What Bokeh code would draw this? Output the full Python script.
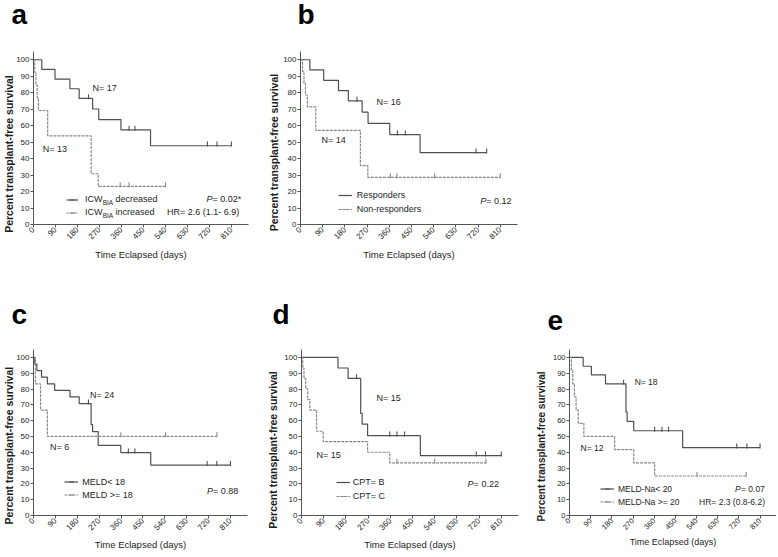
from math import pi
from bokeh.plotting import figure
from bokeh.models import Range1d, FixedTicker, Label, Legend, LegendItem, Title
from bokeh.layouts import column, row
from bokeh.embed import file_html
from bokeh.resources import INLINE

FONT = "Liberation Sans"
TXT = "#1e1e1e"
SOLID = "#505050"
DASHED = "#8a8a8a"
NBSP = "\u00a0"

X_TICKS = [0, 90, 180, 270, 360, 450, 540, 630, 720, 810]
Y_TICKS = [0, 10, 20, 30, 40, 50, 60, 70, 80, 90, 100]
X_LABEL = "Time Eclapsed (days)"
Y_LABEL = "Percent transplant-free survival"

# ---- panel a : ICW_BIA
a_dec_time = [0, 34, 88, 149, 187, 242, 267, 358, 479, 810]
a_dec_surv = [100, 94.1, 88.2, 82.4, 76.5, 70.1, 63.7, 57.4, 47.8, 47.8]
a_dec_cens = [225, 391, 415, 712, 751, 810]
a_inc_time = [0, 5, 10, 15, 20, 58, 236, 265, 540]
a_inc_surv = [100, 92.3, 84.6, 76.9, 69.2, 53.8, 30.8, 23.1, 23.1]
a_inc_cens = [355, 391, 540]

# ---- panel b : responders
b_res_time = [0, 38, 94, 154, 194, 250, 274, 362, 485, 755]
b_res_surv = [100, 93.8, 87.5, 81.3, 75.0, 68.2, 61.4, 54.5, 43.6, 43.6]
b_res_cens = [229, 393, 425, 712, 755]
b_non_time = [0, 8, 14, 20, 28, 62, 243, 273, 810]
b_non_surv = [100, 92.9, 85.7, 78.6, 71.4, 57.1, 35.7, 28.6, 28.6]
b_non_cens = [364, 391, 544, 810]

# ---- panel c : MELD
c_lo_time = [0, 5, 14, 33, 57, 87, 150, 188, 237, 243, 266, 359, 482, 810]
c_lo_surv = [100, 95.8, 91.7, 87.5, 83.3, 79.2, 75.0, 70.8, 57.5, 53.1, 44.3, 39.8, 31.9, 31.9]
c_lo_cens = [226, 390, 417, 714, 754, 810]
c_hi_time = [0, 8, 29, 57, 754]
c_hi_surv = [100, 83.3, 66.7, 50.0, 50.0]
c_hi_cens = [359, 543, 754]

# ---- panel d : CPT
d_b_time = [0, 148, 189, 240, 246, 268, 482, 810]
d_b_surv = [100, 93.3, 86.7, 64.6, 57.8, 50.5, 37.9, 37.9]
d_b_cens = [223, 358, 387, 418, 709, 746, 810]
d_c_time = [0, 5, 10, 17, 25, 34, 61, 88, 268, 358, 748]
d_c_surv = [100, 93.3, 86.7, 80.0, 73.3, 66.7, 53.3, 46.7, 40.0, 33.3, 33.3]
d_c_cens = [387, 540, 748]

# ---- panel e : MELD-Na
e_lo_time = [0, 58, 93, 153, 240, 245, 273, 481, 810]
e_lo_surv = [100, 94.4, 88.9, 83.3, 65.5, 59.5, 53.6, 42.9, 42.9]
e_lo_cens = [230, 362, 393, 421, 711, 754, 810]
e_hi_time = [0, 8, 14, 21, 28, 37, 61, 192, 273, 362, 751]
e_hi_surv = [100, 91.7, 83.3, 75.0, 66.7, 58.3, 50.0, 41.7, 33.3, 25.0, 25.0]
e_hi_cens = [542, 751]


def surv_at(times, surv, t):
    level = surv[0]
    for ti, si in zip(times, surv):
        if ti <= t:
            level = si
    return level


def add_text(p, x, y, s, size, style="normal", align="left", baseline="middle"):
    p.add_layout(Label(x=x, y=y, text=s, text_font=FONT, text_font_size=f"{size}px",
                       text_font_style=style, text_align=align, text_baseline=baseline,
                       text_color=TXT))


def make_panel(g):
    p = figure(width=g["w"], height=g["h"],
               min_border_left=g["mbl"], min_border_right=g["mbr"],
               min_border_top=0, min_border_bottom=g["mbb"],
               x_range=Range1d(0, 880), y_range=Range1d(0, 105),
               output_backend="svg", toolbar_location=None)
    p.outline_line_color = None
    p.grid.visible = False
    p.background_fill_color = "white"
    p.border_fill_color = "white"

    # gap between the panel letter and the plot frame
    p.add_layout(Title(text=" ", text_font_size="1px", standoff=g["gap"]), "above")
    # panel letter as the figure title
    p.title.text = g["name"]
    p.title.text_font = FONT
    p.title.text_font_size = "28px"
    p.title.text_font_style = "bold"
    p.title.text_color = "#000000"
    p.title.align = "left"
    p.title.vertical_align = "top"
    p.title.offset = g["toff"]
    p.title.standoff = -4

    p.xaxis.ticker = FixedTicker(ticks=X_TICKS)
    p.yaxis.ticker = FixedTicker(ticks=Y_TICKS)
    p.xaxis.major_label_orientation = pi / 4
    p.xaxis.axis_label = X_LABEL
    p.xaxis.axis_label_text_font_style = "normal"
    p.xaxis.axis_label_text_font_size = f"{g['xfs']}px"
    p.xaxis.axis_label_standoff = g["xls"]
    # trailing no-break spaces push the rotated label towards the axis origin, as in the original
    p.yaxis.axis_label = Y_LABEL + NBSP * g["ypad"]
    p.yaxis.axis_label_text_font_style = "bold"
    p.yaxis.axis_label_text_font_size = f"{g['yfs']}px"
    p.yaxis.axis_label_standoff = g["yls"]
    for ax in (p.xaxis[0], p.yaxis[0]):
        ax.axis_label_text_font = FONT
        ax.axis_label_text_color = TXT
        ax.axis_line_color = "#555555"
        ax.major_tick_line_color = "#555555"
        ax.minor_tick_line_color = None
        ax.major_tick_out = 3
        ax.major_tick_in = 0
        ax.major_label_standoff = 1
        ax.major_label_text_font = FONT
        ax.major_label_text_font_size = f"{g['tfs']}px"
        ax.major_label_text_color = TXT

    items = []
    for (times, surv, cens, label, dashed) in g["curves"]:
        color = DASHED if dashed else SOLID
        r_line = p.step(times, surv, mode="after", line_color=color, line_width=1.2,
                        line_dash="3 1" if dashed else "solid")
        clev = [surv_at(times, surv, c) + 1.0 for c in cens]
        r_cens = p.scatter(cens, clev, marker="dash", angle=pi / 2, size=5,
                           line_color=color, line_width=1.1)
        items.append(LegendItem(label=label, renderers=[r_line, r_cens]))

    lx, ly, lh, gw, so = g["legend"]
    leg = Legend(items=items, location=(lx, ly), glyph_width=gw, glyph_height=lh,
                 label_height=lh, label_standoff=so, spacing=0, padding=0, margin=0,
                 border_line_alpha=0, background_fill_alpha=0,
                 label_text_font=FONT, label_text_font_size=f"{g['fs']}px",
                 label_text_color=TXT)
    p.add_layout(leg)

    for (nx, ny, s) in g["ns"]:
        add_text(p, nx, ny, s, g["fs"])
    px_, rx_, py_, pval = g["p"]
    add_text(p, px_, py_, "P", g["fs"], style="italic")
    add_text(p, rx_, py_, pval, g["fs"])
    if g.get("hr"):
        hx, hy, hs = g["hr"]
        add_text(p, hx, hy, hs, g["fs"], align="right")
    return p


TOP = dict(gap=19, h=300, mbb=76, xls=5)
BOT = dict(gap=17, h=256, mbb=34, xls=4)

pa = make_panel(dict(
    TOP, name="a", w=262, mbl=32, mbr=14, fs=9, tfs=8, xfs=9.5, yfs=10.5, yls=-2, toff=-22,
    ypad=11,
    curves=[(a_dec_time, a_dec_surv, a_dec_cens, "ICW", False),
            (a_inc_time, a_inc_surv, a_inc_cens, "ICW", True)],
    legend=(33, 5.5, 13, 12, 7),
    ns=[(241, 82.7, "N= 17"), (38, 45.9, "N= 13")],
    p=(708, 733, 15.2, "= 0.02*"),
    hr=(842, 7.3, "HR= 2.6 (1.1- 6.9)"),
))
# subscripted legend labels of panel a
for yrow, word in ((15.26, "decreased"), (7.33, "increased")):
    add_text(pa, 283, yrow - 1.7, "BIA", 6.5)
    add_text(pa, 336, yrow, word, 9)

pb = make_panel(dict(
    TOP, name="b", w=278, mbl=38, mbr=23, fs=9, tfs=8, xfs=9.5, yfs=10.5, yls=0, toff=-3,
    ypad=10,
    curves=[(b_res_time, b_res_surv, b_res_cens, "Responders", False),
            (b_non_time, b_non_surv, b_non_cens, "Non-responders", True)],
    legend=(37.7, 7.7, 14, 14, 5),
    ns=[(308, 74.3, "N= 16"), (85, 51.2, "N= 14")],
    p=(729, 753, 14.0, "= 0.12"),
))

pc = make_panel(dict(
    BOT, name="c", w=262, mbl=32, mbr=15, fs=9, tfs=8, xfs=9.5, yfs=10.5, yls=-2, toff=-22,
    ypad=9,
    curves=[(c_lo_time, c_lo_surv, c_lo_cens, "MELD< 18", False),
            (c_hi_time, c_hi_surv, c_hi_cens, "MELD >= 18", True)],
    legend=(31.3, 13.6, 13, 14, 4),
    ns=[(232, 76.2, "N= 24"), (68, 43.6, "N= 6")],
    p=(713, 738, 15.4, "= 0.88"),
))

pd_ = make_panel(dict(
    BOT, name="d", w=268, mbl=39, mbr=12, fs=9, tfs=8, xfs=9.5, yfs=10.5, yls=2, toff=-29,
    ypad=12,
    curves=[(d_b_time, d_b_surv, d_b_cens, "CPT= B", False),
            (d_c_time, d_c_surv, d_c_cens, "CPT= C", True)],
    legend=(34.7, 11.7, 14, 14, 3),
    ns=[(304, 74.4, "N= 15"), (61, 38.2, "N= 15")],
    p=(673, 698, 19.9, "= 0.22"),
))

pe = make_panel(dict(
    BOT, name="e", w=246, mbb=41, mbl=39, mbr=0, fs=8.5, tfs=7.5, xfs=9, yfs=10,
    yls=3, toff=-22, xls=2, ypad=10,
    curves=[(e_lo_time, e_lo_surv, e_lo_cens, "MELD-Na< 20", False),
            (e_hi_time, e_hi_surv, e_hi_cens, "MELD-Na >= 20", True)],
    legend=(31, 6.6, 13, 14, 4),
    ns=[(277, 84.3, "N= 18"), (47, 42.5, "N= 12")],
    p=(704, 729, 16.6, "= 0.07"),
    hr=(831, 8.5, "HR= 2.3 (0.8-6.2)"),
))

layout = column(row(pa, pb), row(pc, pd_, pe))
open("out.html", "w").write(file_html(layout, INLINE))
